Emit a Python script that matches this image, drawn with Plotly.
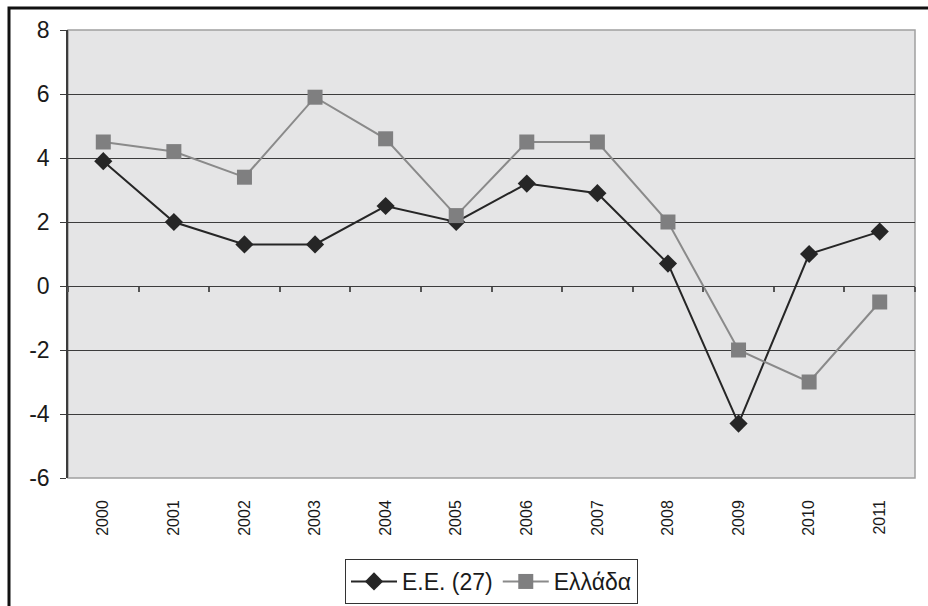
import plotly.graph_objects as go

years = ["2000", "2001", "2002", "2003", "2004", "2005", "2006", "2007", "2008", "2009", "2010", "2011"]
eu27 = [3.9, 2.0, 1.3, 1.3, 2.5, 2.0, 3.2, 2.9, 0.7, -4.3, 1.0, 1.7]
greece = [4.5, 4.2, 3.4, 5.9, 4.6, 2.2, 4.5, 4.5, 2.0, -2.0, -3.0, -0.5]
y_ticks = [-6, -4, -2, 0, 2, 4, 6, 8]
y_tick_text = ["-6", "-4", "-2", "0", "2", "4", "6", "8"]

W, H = 928, 606
ML, MR, MT, MB = 68, 13, 30, 128
PW, PH = W - ML - MR, H - MT - MB

FONT = "Liberation Sans, Arial, sans-serif"

fig = go.Figure()
fig.add_trace(go.Scatter(
    x=years, y=eu27, name="Ε.Ε. (27)", mode="lines+markers",
    line=dict(color="#262626", width=2),
    marker=dict(symbol="diamond", size=14, color="#262626"),
    xaxis="x", yaxis="y",
))
fig.add_trace(go.Scatter(
    x=years, y=greece, name="Ελλάδα", mode="lines+markers",
    line=dict(color="#8a8a8a", width=2),
    marker=dict(symbol="square", size=15, color="#7f7f80"),
    xaxis="x2", yaxis="y",
))

def px_x(p):
    return (p - ML) / PW

def px_y(p):
    return (H - MB - p) / PH

fig.update_layout(
    template="none",
    width=W, height=H,
    margin=dict(l=ML, r=MR, t=MT, b=MB, autoexpand=False),
    paper_bgcolor="white",
    plot_bgcolor="#e5e5e6",
    font=dict(family=FONT, color="#1a1a1a"),
    showlegend=True,
    legend=dict(
        orientation="h", x=0.5, xanchor="center", y=px_y(559), yanchor="top",
        bordercolor="#333333", borderwidth=1, bgcolor="white",
        font=dict(size=23, family=FONT, color="#1a1a1a"),
        itemwidth=46, tracegroupgap=0,
    ),
    xaxis=dict(
        type="category", categoryorder="array", categoryarray=years,
        range=[-0.5, 11.5], showgrid=False, zeroline=False, showline=False,
        ticks="", tickangle=-90, tickfont=dict(size=16, family=FONT),
        ticklabelstandoff=18, automargin=False,
    ),
    xaxis2=dict(
        type="category", categoryorder="array", categoryarray=years,
        range=[-0.5, 11.5], overlaying="x", anchor="free",
        position=(0 - y_ticks[0]) / (y_ticks[-1] - y_ticks[0]),
        side="bottom", showgrid=False, zeroline=False, showline=False,
        ticks="outside", ticklen=5, tickwidth=1.5, tickcolor="#555555",
        tickson="boundaries", showticklabels=False, automargin=False,
    ),
    yaxis=dict(
        range=[y_ticks[0], y_ticks[-1]], tickvals=y_ticks, ticktext=y_tick_text,
        showgrid=True, gridcolor="#3c3c3c", gridwidth=1.2,
        zeroline=False, showline=True, linecolor="#3c3c3c", linewidth=1.5,
        ticks="outside", ticklen=6, tickcolor="#3c3c3c", tickwidth=1.2,
        tickfont=dict(size=23, family=FONT), ticklabelstandoff=6,
        automargin=False,
    ),
    shapes=[
        dict(type="rect", xref="paper", yref="paper", x0=0, x1=1, y0=0, y1=1,
             line=dict(color="#a0a0a0", width=1.5), layer="below"),
        dict(type="rect", xref="paper", yref="paper",
             x0=px_x(9), x1=px_x(940), y0=px_y(620), y1=px_y(8),
             line=dict(color="#111111", width=3), layer="above"),
    ],
)

fig.write_html("out.html", config={"displayModeBar": False},
               post_script="document.body.style.margin='0';")
